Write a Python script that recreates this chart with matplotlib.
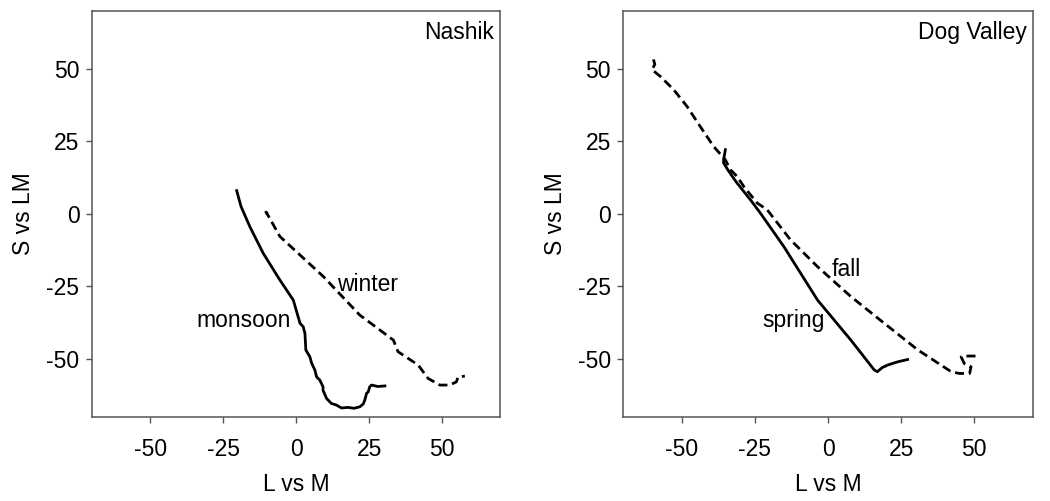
import matplotlib
matplotlib.use("Agg")
import matplotlib.pyplot as plt

plt.rcParams['font.family'] = ['Liberation Sans', 'DejaVu Sans']
plt.rcParams['lines.scale_dashes'] = False
plt.rcParams['axes.unicode_minus'] = False

# Nashik
monsoon_x = [-20.4, -20.0, -18.9, -15.9, -11.3, -5.6, -1.0, 1.3, 2.4, 3.0, 3.3, 4.7, 5.3, 6.4, 7.0, 8.1, 9.2, 9.2, 10.4,
             12.0, 13.8, 15.5, 17.8, 19.8, 21.8, 23.0, 23.5, 24.1, 24.7, 25.2, 25.8, 28.0, 30.4]
monsoon_y = [8.0, 6.5, 2.5, -4.4, -13.6, -22.8, -29.7, -37.7, -38.9, -41.2, -46.9, -49.3, -51.5, -53.8, -56.2, -57.3, -59.6, -60.8, -63.6,
             -65.3, -65.9, -66.9, -66.7, -67.0, -66.5, -65.5, -64.2, -61.9, -61.3, -59.6, -59.0, -59.5, -59.3]
winter_x = [-9.8, -10.4, -9.5, -5.6, 9.3, 21.8, 24.1, 33.3, 34.9, 41.8, 45.2, 49.2, 52.6, 54.9, 55.5, 57.8]
winter_y = [0.0, 0.6, -0.8, -7.8, -21.6, -34.9, -36.6, -43.5, -47.5, -52.1, -56.7, -59.0, -59.0, -57.9, -56.2, -55.9]

# Dog Valley
spring_x = [-35.1, -35.7, -35.7, -33.9, -31.1, -26.5, -23.1, -15.1, -3.6, 7.8, 15.8, 16.9, 18.5, 20.4, 23.8, 27.2]
spring_y = [22.1, 18.6, 17.5, 14.6, 10.6, 4.8, 0.2, -11.3, -29.7, -43.5, -53.8, -54.4, -53.0, -52.1, -51.0, -50.2]
fall_x = [-59.7, -59.2, -60.2, -57.4, -52.8, -48.2, -43.7, -39.1, -35.1, -33.4, -31.1, -28.8, -24.2, -20.8, -12.8, -3.6,
          7.8, 19.2, 30.7, 42.1, 44.9, 48.4, 48.9, 46.6, 45.5, 47.8, 51.2]
fall_y = [53.2, 51.5, 49.7, 47.4, 42.8, 37.0, 30.1, 23.2, 18.6, 15.2, 12.9, 9.4, 3.7, 1.4, -9.0, -18.2,
          -28.5, -37.7, -46.9, -54.4, -55.0, -55.0, -52.7, -51.6, -49.3, -49.0, -49.0]

ticks = [-50, -25, 0, 25, 50]
FS = 16.5

fig = plt.figure(figsize=(10.5, 5.01), dpi=100)
ax1 = fig.add_axes([0.0876, 0.1677, 0.389, 0.811])
ax2 = fig.add_axes([0.5936, 0.1677, 0.390, 0.811])

def style(ax, title):
    ax.set_xlim(-70, 70)
    ax.set_ylim(-70, 70)
    ax.set_xticks(ticks)
    ax.set_yticks(ticks)
    ax.tick_params(direction='out', length=4, width=1, color='#555555', labelsize=FS)
    ax.tick_params(axis='x', pad=11)
    ax.tick_params(axis='y', pad=5)
    for s in ax.spines.values():
        s.set_color('#555555')
        s.set_linewidth(1.1)
    ax.set_xlabel('L vs M', fontsize=FS, labelpad=9)
    ax.set_ylabel('S vs LM', fontsize=FS, labelpad=8)
    ax.text(0.985, 0.975, title, transform=ax.transAxes, ha='right', va='top', fontsize=FS)

ax1.plot(monsoon_x, monsoon_y, color='black', lw=2.0, solid_joinstyle='round')
ax1.plot(winter_x, winter_y, color='black', lw=2.0, dashes=(6.5, 3.5))
ax1.text(24.6, -24.2, 'winter', ha='center', va='center', fontsize=FS)
ax1.text(-17.9, -36.9, 'monsoon', ha='center', va='center', fontsize=FS)
style(ax1, 'Nashik')

ax2.plot(spring_x, spring_y, color='black', lw=2.0, solid_joinstyle='round')
ax2.plot(fall_x, fall_y, color='black', lw=2.0, dashes=(6.5, 3.5))
ax2.text(6.4, -19.3, 'fall', ha='center', va='center', fontsize=FS)
ax2.text(-11.9, -36.9, 'spring', ha='center', va='center', fontsize=FS)
style(ax2, 'Dog Valley')

fig.savefig('out.png', dpi=100)
